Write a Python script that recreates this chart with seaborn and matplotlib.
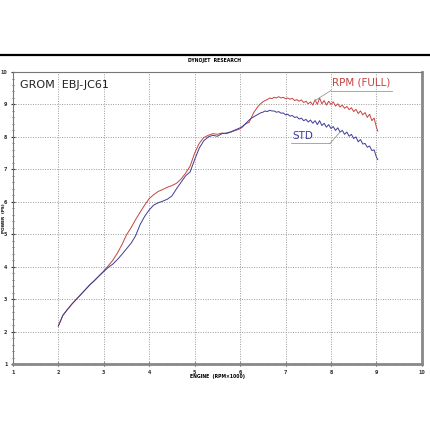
import numpy as np
import pandas as pd
import matplotlib
matplotlib.use("Agg")
import matplotlib.pyplot as plt
import seaborn as sns
from matplotlib.ticker import MultipleLocator

# engine speed (x1000 rpm) and power (PS)
rpm_low = [2.0, 2.1, 2.2, 2.3, 2.4, 2.5, 2.6, 2.7, 2.8, 2.9,
           3.0, 3.1, 3.2, 3.3, 3.4, 3.5, 3.6, 3.7, 3.8, 3.9,
           4.0, 4.1, 4.2, 4.3, 4.4, 4.5, 4.6, 4.7, 4.8, 4.9,
           5.0, 5.1, 5.2, 5.3, 5.4, 5.5, 5.6, 5.7, 5.8, 5.9]
full_low = [2.17, 2.5, 2.68, 2.85, 3.0, 3.15, 3.3, 3.45, 3.58, 3.72,
            3.87, 4.03, 4.2, 4.42, 4.68, 4.98, 5.2, 5.45, 5.68, 5.9,
            6.1, 6.22, 6.32, 6.38, 6.45, 6.5, 6.57, 6.7, 6.88, 7.1,
            7.5, 7.8, 7.98, 8.05, 8.1, 8.08, 8.12, 8.1, 8.15, 8.2]
std_low = [2.17, 2.5, 2.68, 2.85, 3.0, 3.15, 3.3, 3.45, 3.58, 3.72,
           3.85, 3.98, 4.08, 4.22, 4.38, 4.55, 4.72, 4.95, 5.3, 5.55,
           5.75, 5.9, 5.97, 6.02, 6.08, 6.18, 6.4, 6.6, 6.8, 6.92,
           7.3, 7.65, 7.88, 8.0, 8.05, 8.02, 8.1, 8.12, 8.16, 8.22]

rpm_high = [6.00, 6.05, 6.10, 6.15, 6.20, 6.25, 6.30, 6.35, 6.40, 6.45,
            6.50, 6.55, 6.60, 6.65, 6.70, 6.75, 6.80, 6.85, 6.90, 6.95,
            7.00, 7.05, 7.10, 7.15, 7.20, 7.25, 7.30, 7.35, 7.40, 7.45,
            7.50, 7.55, 7.60, 7.65, 7.70, 7.75, 7.80, 7.85, 7.90, 7.95,
            8.00, 8.05, 8.10, 8.15, 8.20, 8.25, 8.30, 8.35, 8.40, 8.45,
            8.50, 8.55, 8.60, 8.65, 8.70, 8.75, 8.80, 8.85, 8.90, 8.95,
            9.00, 9.03]
full_high = [8.25, 8.3, 8.38, 8.42, 8.45, 8.6, 8.75, 8.85, 8.95, 9.02,
             9.08, 9.12, 9.15, 9.2, 9.18, 9.22, 9.2, 9.24, 9.2, 9.22,
             9.18, 9.2, 9.16, 9.19, 9.12, 9.15, 9.1, 9.14, 9.06, 9.1,
             9.02, 9.08, 8.98, 9.15, 9.0, 9.2, 9.02, 9.12, 8.98, 9.1,
             9.0, 9.08, 8.95, 9.02, 8.92, 8.98, 8.88, 8.94, 8.84, 8.9,
             8.78, 8.85, 8.72, 8.8, 8.68, 8.75, 8.6, 8.7, 8.5, 8.58,
             8.3, 8.18]
std_high = [8.28, 8.32, 8.38, 8.45, 8.52, 8.58, 8.62, 8.66, 8.7, 8.74,
            8.76, 8.8, 8.78, 8.82, 8.8, 8.8, 8.76, 8.78, 8.73, 8.74,
            8.68, 8.7, 8.64, 8.66, 8.6, 8.62, 8.55, 8.58, 8.5, 8.54,
            8.46, 8.52, 8.42, 8.5, 8.38, 8.5, 8.35, 8.42, 8.3, 8.38,
            8.26, 8.32, 8.2, 8.28, 8.15, 8.2, 8.08, 8.15, 8.02, 8.08,
            7.95, 8.0, 7.85, 7.92, 7.78, 7.8, 7.68, 7.72, 7.58, 7.6,
            7.38, 7.3]

rpm = rpm_low + rpm_high
df = pd.concat([
    pd.DataFrame({"rpm": rpm, "ps": full_low + full_high, "run": "RPM (FULL)"}),
    pd.DataFrame({"rpm": rpm, "ps": std_low + std_high, "run": "STD"}),
])

red = "#c8433f"
blue = "#3c3c96"

fig = plt.figure(figsize=(4.3, 4.3), dpi=100)
ax = fig.add_axes([0.030, 0.1535, 0.951, 0.679])

sns.lineplot(data=df, x="rpm", y="ps", hue="run", palette={"RPM (FULL)": red, "STD": blue},
             lw=0.7, sort=False, estimator=None, legend=False, ax=ax)

ax.set_xlim(1, 10)
ax.set_ylim(1, 10)
ax.xaxis.set_major_locator(MultipleLocator(1))
ax.yaxis.set_major_locator(MultipleLocator(1))
ax.xaxis.set_minor_locator(MultipleLocator(0.2))
ax.yaxis.set_minor_locator(MultipleLocator(0.2))
ax.grid(which="major", color="#9a9a9a", linestyle=(0, (1, 1.5)), linewidth=0.7)
ax.tick_params(which="major", length=3, width=0.8, direction="inout", labelsize=3.5, pad=2.5, colors="#333333")
ax.tick_params(which="minor", length=2, width=0.6, direction="inout", colors="#555555")
for lab in ax.get_xticklabels() + ax.get_yticklabels():
    lab.set_fontweight("bold")
for s in ["left", "top"]:
    ax.spines[s].set_color("#777777")
    ax.spines[s].set_linewidth(0.8)
for s in ["bottom", "right"]:
    ax.spines[s].set_color("#888888")
    ax.spines[s].set_linewidth(2.0)

ax.set_xlabel("ENGINE  (RPM×1000)", fontsize=3.3, fontweight="bold", labelpad=1)
ax.xaxis.set_label_coords(0.5, -0.035)
ax.set_ylabel("POWER  (PS)", fontsize=3.0, fontweight="bold", labelpad=1)
ax.yaxis.set_label_coords(-0.018, 0.5)

ax.text(1.15, 9.6, "GROM  EBJ-JC61", fontsize=8, color="#222222", va="center")

# run labels with leader lines
ax.text(8.66, 9.67, "RPM (FULL)", fontsize=7.5, color=red, ha="center", va="center")
ax.plot([8.0, 9.35], [9.43, 9.43], color="#999999", lw=0.6)
ax.plot([8.0, 7.65], [9.43, 9.12], color="#999999", lw=0.6)
ax.text(7.37, 8.02, "STD", fontsize=7.5, color=blue, ha="center", va="center")
ax.plot([7.12, 7.98], [7.8, 7.8], color="#999999", lw=0.6)
ax.plot([7.98, 8.2], [7.8, 8.15], color="#999999", lw=0.6)

# dyno sheet header
fig.add_artist(plt.Line2D([0, 1], [0.872, 0.872], color="black", lw=1.6))
fig.text(0.5, 0.86, "DYNOJET  RESEARCH", fontsize=3.3, fontweight="bold", ha="center", va="center")

fig.savefig("out.png", dpi=100)
